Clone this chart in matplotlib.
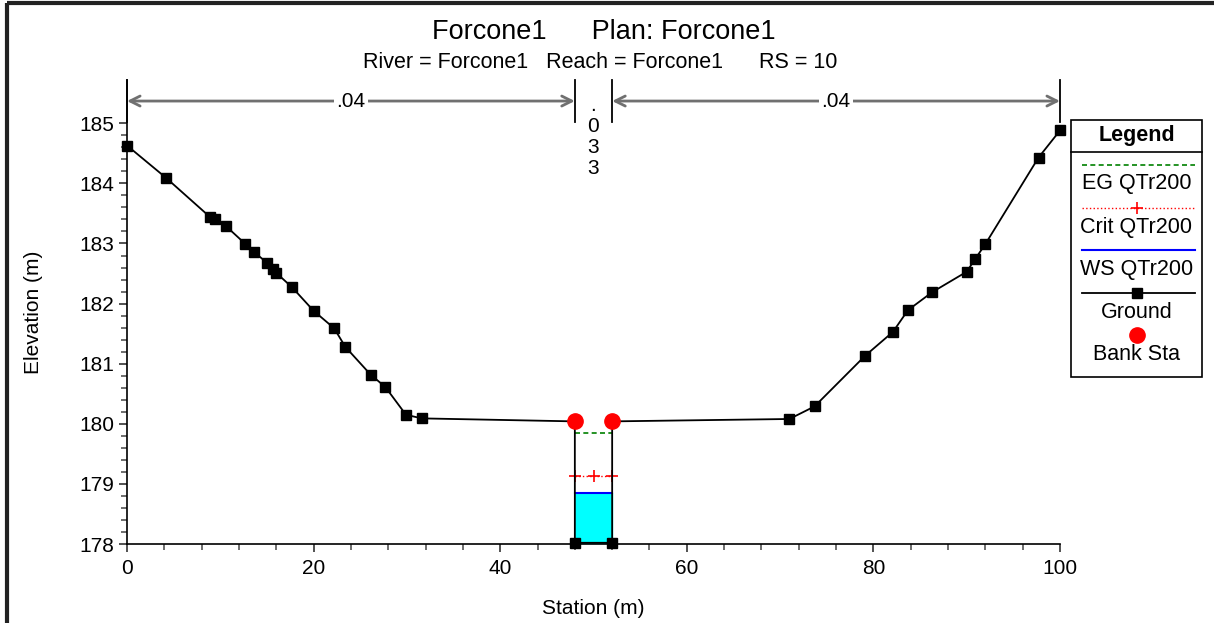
import matplotlib
matplotlib.use("Agg")
import matplotlib.pyplot as plt
from matplotlib.patches import Rectangle
from matplotlib.lines import Line2D

plt.rcParams['font.family'] = ['Liberation Sans', 'DejaVu Sans']

# ground survey points (station m, elevation m)
station = [0, 4.2, 8.9, 9.4, 10.6, 12.7, 13.6, 15.0, 15.6, 16.0, 17.7, 20.0, 22.2,
           23.4, 26.1, 27.7, 29.9, 31.6, 48.0, 48.0, 52.0, 52.0, 71.0, 73.7, 79.1,
           82.1, 83.7, 86.3, 90.0, 90.9, 92.0, 97.7, 100.0]
elevation = [184.63, 184.09, 183.44, 183.40, 183.29, 182.99, 182.86, 182.68, 182.58,
             182.51, 182.27, 181.88, 181.59, 181.28, 180.82, 180.61, 180.15, 180.09,
             180.04, 178.02, 178.02, 180.04, 180.08, 180.29, 181.13, 181.53, 181.89,
             182.19, 182.53, 182.74, 182.99, 184.43, 184.88]

bank_sta = [48.0, 52.0]
bank_elev = [180.04, 180.04]

ws_elev = 178.85
crit_elev = 179.13
eg_elev = 179.85
crit_sta = [48.0, 50.0, 52.0]

# manning n regions
n_breaks = [0, 48, 52, 100]
n_values = ['.04', '.033', '.04']

W, H = 1214, 623
FS = 15
fig = plt.figure(figsize=(W / 100, H / 100), dpi=100)
ax = fig.add_axes([127 / W, 1 - 544 / H, (1060 - 127) / W, (544 - 80) / H])

# water in channel
ax.fill_between(bank_sta, [elevation[19], elevation[20]], ws_elev, color='#00ffff', zorder=1)
ax.plot(bank_sta, [ws_elev, ws_elev], color='#0000ff', lw=1.5, zorder=3)
ax.plot(crit_sta, [crit_elev] * len(crit_sta), color='red', ls=':', lw=1,
        marker='+', ms=8, mew=1.2, zorder=3)
ax.plot(bank_sta, [eg_elev, eg_elev], color='#008000', ls=(0, (3, 2)), lw=1.2, zorder=3)
ax.plot(station, elevation, color='black', lw=1.3, marker='s', ms=6.5, zorder=4, clip_on=False)
ax.plot(bank_sta, bank_elev, ls='none', marker='o', color='red', ms=11, zorder=5)

ax.set_xlim(0, 100)
ax.set_ylim(178, 185.72)
ax.set_xticks(range(0, 101, 20))
ax.set_xticks(range(0, 101, 4), minor=True)
ax.set_yticks(range(178, 186))
ax.set_yticks([178 + 0.2 * i for i in range(36)], minor=True)
for s in ['top', 'right']:
    ax.spines[s].set_visible(False)
for s in ['left', 'bottom']:
    ax.spines[s].set_linewidth(1.2)
ax.tick_params(which='major', length=6, width=1.2, color='#333333', labelsize=FS, pad=3)
ax.tick_params(axis='x', which='major', pad=5)
ax.tick_params(which='minor', length=4.5, width=1.2, color='#555555')
ax.set_xlabel('Station (m)', fontsize=FS, labelpad=15)
ax.set_ylabel('Elevation (m)', fontsize=FS, labelpad=26)

# n-value markers
px_per_m = (544 - 80) / (185.72 - 178)   # pixels per metre of elevation
y_top = 185.72
y_arrow = 185.37
for xb in n_breaks:
    ax.plot([xb, xb], [185.02, y_top], color='black', lw=1.3, clip_on=False)
for i, nv in enumerate(n_values):
    x0, x1 = n_breaks[i], n_breaks[i + 1]
    xm = (x0 + x1) / 2
    if x1 - x0 > 10:
        ax.annotate('', xy=(x0, y_arrow), xytext=(x1, y_arrow),
                    arrowprops=dict(arrowstyle='<->', color='#707070', lw=2,
                                    shrinkA=0, shrinkB=0, mutation_scale=18))
        ax.text(xm, y_arrow, nv, ha='center', va='center', fontsize=FS,
                bbox=dict(fc='white', ec='none', pad=2), zorder=6)
    else:
        # stacked vertically, one character per line
        for k, ch in enumerate(nv):
            yb = y_top - (110.5 - 80 + 21 * k) / px_per_m
            ax.text(xm, yb, ch, ha='center', va='baseline', fontsize=FS, zorder=6)

# titles
fig.text(604 / W, 1 - 32 / H, 'Forcone1      Plan: Forcone1', ha='center', va='center', fontsize=19.5)
fig.text(600 / W, 1 - 62 / H, 'River = Forcone1   Reach = Forcone1      RS = 10',
         ha='center', va='center', fontsize=15.5)

# overlay in pixel units: frame and legend box
ov = fig.add_axes([0, 0, 1, 1], facecolor='none')
ov.set_xlim(0, W)
ov.set_ylim(H, 0)
ov.axis('off')
ov.add_patch(Rectangle((7, 3), W + 20, H + 20, fill=False, ec='#222222', lw=3))

LFS = 15.5
lx0, lx1, ly0, ly1 = 1071, 1202, 120, 377
ov.add_patch(Rectangle((lx0, ly0), lx1 - lx0, ly1 - ly0, fill=False, ec='black', lw=1.2))
ov.add_line(Line2D([lx0, lx1], [152, 152], color='black', lw=1.2))
lc = (lx0 + lx1) / 2
ov.text(lc, 135, 'Legend', ha='center', va='center', fontsize=LFS, fontweight='bold')
sx = [1082, 1195]
ov.add_line(Line2D(sx, [165, 165], color='#008000', ls=(0, (3, 2)), lw=1.2))
ov.text(lc, 184, 'EG QTr200', ha='center', va='center', fontsize=LFS)
ov.add_line(Line2D(sx, [208, 208], color='red', ls=':', lw=1))
ov.add_line(Line2D([lc], [208], color='red', marker='+', ms=8, mew=1.2))
ov.text(lc, 227, 'Crit QTr200', ha='center', va='center', fontsize=LFS)
ov.add_line(Line2D(sx, [250, 250], color='#0000ff', lw=1.5))
ov.text(lc, 269, 'WS QTr200', ha='center', va='center', fontsize=LFS)
ov.add_line(Line2D(sx, [293, 293], color='black', lw=1.3))
ov.add_line(Line2D([lc], [293], color='black', marker='s', ms=6.5))
ov.text(lc, 312, 'Ground', ha='center', va='center', fontsize=LFS)
ov.add_line(Line2D([lc], [335], color='red', marker='o', ms=11))
ov.text(lc, 355, 'Bank Sta', ha='center', va='center', fontsize=LFS)

fig.savefig('out.png', dpi=100)
